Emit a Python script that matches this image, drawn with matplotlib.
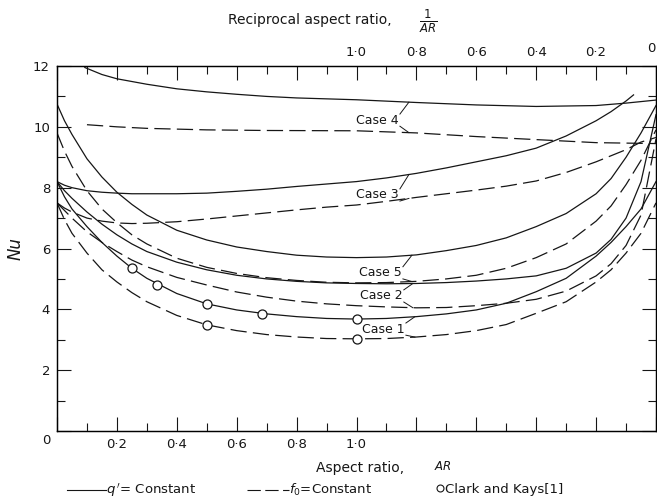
import numpy as np
import matplotlib.pyplot as plt
from matplotlib.lines import Line2D

# horizontal scale: AR from 0 to 1 on the left half, then 1/AR from 1 back to 0
# plotted as s = 2 - 1/AR on the right half
s_grid = [0, 0.025, 0.05, 0.1, 0.15, 0.2, 0.25, 0.3, 0.4, 0.5, 0.6, 0.7, 0.8, 0.9,
          1.0, 1.1, 1.2, 1.3, 1.4, 1.5, 1.6, 1.7, 1.8, 1.85, 1.9, 1.95, 2.0]

case1_q = [8.2, 7.7, 7.3, 6.72, 6.2, 5.75, 5.35, 5.02, 4.52, 4.18, 3.98, 3.85, 3.76, 3.7,
           3.68, 3.7, 3.76, 3.85, 3.98, 4.2, 4.58, 5.02, 5.75, 6.2, 6.72, 7.3, 8.2]
case1_f = [7.5, 6.95, 6.5, 5.85, 5.3, 4.9, 4.55, 4.25, 3.8, 3.49, 3.3, 3.17, 3.09, 3.04,
           3.03, 3.04, 3.09, 3.17, 3.3, 3.5, 3.87, 4.25, 4.9, 5.3, 5.85, 6.5, 7.5]
case2_q = [8.2, 7.9, 7.65, 7.2, 6.8, 6.45, 6.15, 5.9, 5.55, 5.3, 5.12, 5.0, 4.92, 4.87,
           4.85, 4.84, 4.85, 4.88, 4.93, 5.0, 5.1, 5.35, 5.85, 6.3, 7.0, 8.2, 10.4]
case2_f = [7.5, 7.25, 7.0, 6.55, 6.2, 5.9, 5.62, 5.4, 5.05, 4.8, 4.57, 4.4, 4.27, 4.18,
           4.12, 4.08, 4.05, 4.06, 4.12, 4.2, 4.33, 4.6, 5.1, 5.5, 6.1, 7.1, 9.6]
case3_f = [7.5, 7.33, 7.2, 7.0, 6.9, 6.84, 6.82, 6.83, 6.88, 6.97, 7.07, 7.17, 7.27, 7.36,
           7.43, 7.55, 7.68, 7.8, 7.92, 8.05, 8.22, 8.5, 8.85, 9.05, 9.25, 9.5, 9.65]
case5_q = [10.75, 10.2, 9.75, 8.95, 8.35, 7.85, 7.45, 7.1, 6.6, 6.28, 6.05, 5.9, 5.78, 5.72,
           5.7, 5.72, 5.79, 5.93, 6.1, 6.35, 6.72, 7.15, 7.8, 8.3, 9.0, 9.8, 10.7]
case5_f = [9.8, 9.2, 8.7, 7.9, 7.3, 6.85, 6.45, 6.15, 5.68, 5.38, 5.18, 5.04, 4.95, 4.89,
           4.87, 4.88, 4.92, 5.0, 5.12, 5.35, 5.7, 6.15, 6.9, 7.4, 8.1, 8.9, 9.9]

case3_q_s = [0, 0.025, 0.05, 0.1, 0.15, 0.2, 0.25, 0.3, 0.4, 0.5, 0.6, 0.7, 0.8, 0.9,
             1.0, 1.1, 1.2, 1.3, 1.4, 1.5, 1.6, 1.7, 1.8, 1.85, 1.9, 1.925]
case3_q = [8.2, 8.08, 8.0, 7.9, 7.85, 7.82, 7.8, 7.8, 7.8, 7.82, 7.88, 7.95, 8.04, 8.12,
           8.2, 8.32, 8.47, 8.65, 8.85, 9.05, 9.3, 9.7, 10.2, 10.5, 10.85, 11.05]

case4_q_s = [0.093, 0.15, 0.2, 0.3, 0.4, 0.5, 0.6, 0.7, 0.8, 0.9, 1.0, 1.2, 1.4, 1.6, 1.8, 1.9, 2.0]
case4_q = [11.95, 11.72, 11.58, 11.4, 11.25, 11.15, 11.07, 11.0, 10.95, 10.92, 10.89,
           10.8, 10.72, 10.67, 10.7, 10.78, 10.88]
case4_f_s = [0.1, 0.2, 0.3, 0.5, 0.7, 1.0, 1.2, 1.4, 1.6, 1.8, 2.0]
case4_f = [10.07, 10.0, 9.95, 9.9, 9.88, 9.87, 9.8, 9.68, 9.58, 9.48, 9.45]

# Clark and Kays data points
ck_q_s = [0.25, 0.333, 0.5, 0.686, 1.0]
ck_q = [5.35, 4.8, 4.18, 3.85, 3.68]
ck_f_s = [0.5, 1.0]
ck_f = [3.49, 3.03]

bottom_ticks = [0, 0.2, 0.4, 0.6, 0.8, 1.0, 1.2, 1.4, 1.6, 1.8, 2.0]
bottom_labels = ['', '0·2', '0·4', '0·6', '0·8', '1·0', '', '', '', '', '']
top_labels = ['', '', '', '', '', '1·0', '0·8', '0·6', '0·4', '0·2', '']
y_ticks = [0, 2, 4, 6, 8, 10, 12]
y_labels = ['', '2', '4', '6', '8', '10', '12']

# (label, s of left edge, Nu of text centre, solid curve, dashed curve)
case_labels = [
    ('Case 4', 1.0, 10.22, (case4_q_s, case4_q), (case4_f_s, case4_f)),
    ('Case 3', 1.0, 7.76, (case3_q_s, case3_q), (s_grid, case3_f)),
    ('Case 5', 1.01, 5.2, (s_grid, case5_q), (s_grid, case5_f)),
    ('Case 2', 1.013, 4.44, (s_grid, case2_q), (s_grid, case2_f)),
    ('Case 1', 1.02, 3.35, (s_grid, case1_q), (s_grid, case1_f)),
]

ink = '#161616'
solid = dict(color=ink, lw=0.9)
dashed = dict(color=ink, lw=0.9, dashes=(13, 5))

fig = plt.figure(figsize=(6.57, 4.99), dpi=100)
ax = fig.add_axes([57 / 657, 1 - 431 / 499, 599 / 657, 365 / 499])

ax.plot(s_grid, case1_q, **solid)
ax.plot(s_grid, case1_f, **dashed)
ax.plot(s_grid, case2_q, **solid)
ax.plot(s_grid, case2_f, **dashed)
ax.plot(case3_q_s, case3_q, **solid)
ax.plot(s_grid, case3_f, **dashed)
ax.plot(case4_q_s, case4_q, **solid)
ax.plot(case4_f_s, case4_f, **dashed)
ax.plot(s_grid, case5_q, **solid)
ax.plot(s_grid, case5_f, **dashed)

ax.plot(ck_q_s, ck_q, 'o', ms=6.5, mfc='white', mec=ink, mew=0.9, zorder=5)
ax.plot(ck_f_s, ck_f, 'o', ms=6.5, mfc='white', mec=ink, mew=0.9, zorder=5)

for name, s0, y0, (qs, qv), (fs, fv) in case_labels:
    ax.text(s0, y0, name, fontsize=9, va='center', ha='left', color=ink)
    x1 = s0 + 0.145
    x2 = s0 + 0.175
    ax.plot([x1, x2], [y0 + 0.2, np.interp(x2, qs, qv)], color=ink, lw=0.7)
    ax.plot([x1, x2], [y0 - 0.2, np.interp(x2, fs, fv)], color=ink, lw=0.7)

ax.set_xlim(0, 2)
ax.set_ylim(0, 12)
ax.set_xticks(bottom_ticks)
ax.set_xticklabels(bottom_labels)
ax.set_xticks(np.arange(0.1, 2.0, 0.2), minor=True)
ax.set_yticks(y_ticks)
ax.set_yticklabels(y_labels)
ax.set_yticks(np.arange(1, 12, 2), minor=True)
ax.tick_params(which='both', direction='in', right=True, labelsize=9.5, colors=ink, width=0.8)
ax.tick_params(which='major', length=10, pad=5)
ax.tick_params(which='minor', length=6)
for sp in ax.spines.values():
    sp.set_linewidth(1.0)
    sp.set_color(ink)

top = ax.twiny()
top.set_xlim(0, 2)
top.set_xticks(bottom_ticks)
top.set_xticklabels(top_labels)
top.set_xticks(np.arange(0.1, 2.0, 0.2), minor=True)
top.tick_params(which='both', direction='in', labelsize=9.5, colors=ink, width=0.8)
top.tick_params(which='major', length=10, pad=5)
top.tick_params(which='minor', length=6)

# top "0" sits at the right edge of the picture
top.text(2.0, 12.0, '0', fontsize=9.5, ha='right', va='bottom', color=ink,
         transform=ax.transData).set_y(12.35)

# shared "0" at the lower-left corner
ax.text(-0.037, -0.32, '0', fontsize=9.5, ha='center', va='center', color=ink)

ax.set_ylabel('Nu', fontsize=12, style='italic', labelpad=6, color=ink)

fig.text(310 / 657, 1 - 20 / 499, 'Reciprocal aspect ratio,', fontsize=10, ha='center', va='center', color=ink)
fig.text(428 / 657, 1 - 21 / 499, r'$\frac{1}{AR}$', fontsize=12, ha='center', va='center', color=ink)
fig.text(360 / 657, 1 - 468 / 499, 'Aspect ratio,', fontsize=10, ha='center', va='center', color=ink)
fig.text(443 / 657, 1 - 467 / 499, r'$AR$', fontsize=8.5, ha='center', va='center', color=ink)

# legend row
ly = 1 - 490 / 499
fig.add_artist(Line2D([67 / 657, 106 / 657], [ly, ly], color=ink, lw=0.8))
fig.text(106 / 657, ly, r"$q\,'$= Constant", fontsize=9.5, ha='left', va='center', color=ink)
fig.add_artist(Line2D([247 / 657, 289 / 657], [ly, ly], color=ink, lw=0.8, dashes=(12, 4)))
fig.text(289 / 657, ly, r"$f_0$=Constant", fontsize=9.5, ha='left', va='center', color=ink)
fig.add_artist(Line2D([440 / 657], [ly + 0.004], marker='o', ms=5, mfc='white', mec=ink, mew=0.8, ls='none'))
fig.text(445 / 657, ly, 'Clark and Kays[1]', fontsize=9.5, ha='left', va='center', color=ink)

fig.savefig('out.png', dpi=100)
plt.close(fig)
